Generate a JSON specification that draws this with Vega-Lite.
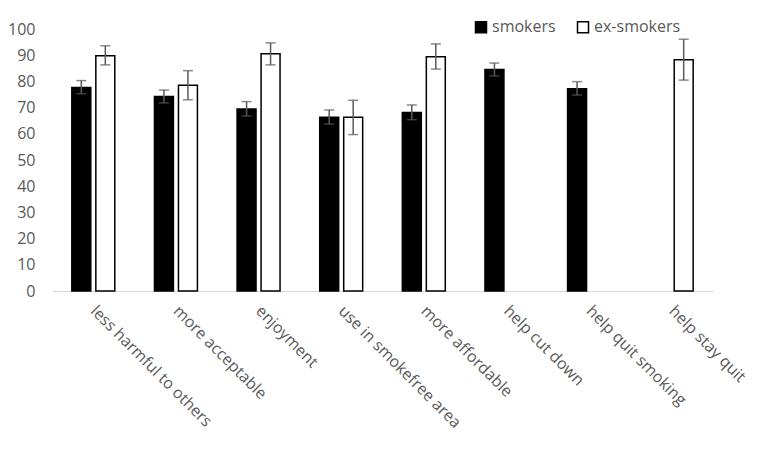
{
  "$schema": "https://vega.github.io/schema/vega-lite/v6.json",
  "width": 661,
  "height": 262,
  "autosize": {"type": "none"},
  "padding": {"left": 52, "top": 29, "right": 44, "bottom": 164},
  "background": "white",
  "config": {
    "view": {"stroke": null},
    "font": "Open Sans",
    "axis": {"labelFont": "Open Sans", "labelColor": "#595959", "labelFontSize": 16, "grid": false, "ticks": false, "title": null, "labelOverlap": false},
    "axisY": {"labelOverlap": false, "tickCount": 11, "domain": false, "labelPadding": 17},
    "legend": {"labelFont": "Open Sans", "labelColor": "#595959", "labelFontSize": 16}
  },
  "data": {
    "values": [
      {"category": "less harmful to others", "group": "smokers", "value": 77.7, "lo": 75.3, "hi": 80.3},
      {"category": "less harmful to others", "group": "ex-smokers", "value": 89.8, "lo": 86.3, "hi": 93.6},
      {"category": "more acceptable", "group": "smokers", "value": 74.2, "lo": 71.8, "hi": 76.7},
      {"category": "more acceptable", "group": "ex-smokers", "value": 78.5, "lo": 73.0, "hi": 84.1},
      {"category": "enjoyment", "group": "smokers", "value": 69.5, "lo": 66.8, "hi": 72.3},
      {"category": "enjoyment", "group": "ex-smokers", "value": 90.6, "lo": 86.3, "hi": 94.7},
      {"category": "use in smokefree area", "group": "smokers", "value": 66.3, "lo": 63.7, "hi": 69.1},
      {"category": "use in smokefree area", "group": "ex-smokers", "value": 66.3, "lo": 59.7, "hi": 72.8},
      {"category": "more affordable", "group": "smokers", "value": 68.1, "lo": 65.4, "hi": 71.0},
      {"category": "more affordable", "group": "ex-smokers", "value": 89.4, "lo": 84.7, "hi": 94.3},
      {"category": "help cut down", "group": "smokers", "value": 84.5, "lo": 82.1, "hi": 87.0},
      {"category": "help quit smoking", "group": "smokers", "value": 77.2, "lo": 74.8, "hi": 79.9},
      {"category": "help stay quit", "group": "ex-smokers", "value": 88.3, "lo": 80.5, "hi": 96.1}
    ]
  },
  "encoding": {
    "x": {
      "field": "category", "type": "nominal", "sort": null,
      "scale": {"domain": ["less harmful to others", "more acceptable", "enjoyment", "use in smokefree area", "more affordable", "help cut down", "help quit smoking", "help stay quit"], "paddingInner": 0.48, "paddingOuter": 0.24},
      "axis": {"labelAngle": 45, "labelAlign": "left", "labelBaseline": "middle", "labelPadding": 17, "domainColor": "#d9d9d9", "domainWidth": 1, "labelLimit": 300}
    },
    "xOffset": {
      "field": "group", "type": "nominal",
      "scale": {"domain": ["smokers", "ex-smokers"], "paddingInner": 0.21, "paddingOuter": 0}
    }
  },
  "layer": [
    {
      "mark": {"type": "bar", "stroke": "black", "strokeWidth": 1.5},
      "encoding": {
        "y": {
          "field": "value", "type": "quantitative",
          "scale": {"domain": [0, 100], "nice": false},
          "axis": {"values": [0, 10, 20, 30, 40, 50, 60, 70, 80, 90, 100], "labelOverlap": false, "domain": false, "labelPadding": 17}
        },
        "fill": {
          "field": "group", "type": "nominal",
          "scale": {"domain": ["smokers", "ex-smokers"], "range": ["#000000", "#ffffff"]},
          "legend": {"title": null, "orient": "none", "direction": "horizontal", "legendX": 421, "legendY": -10, "symbolType": "square", "symbolSize": 121, "symbolStrokeColor": "black", "symbolStrokeWidth": 1.5, "columnPadding": 18, "labelOffset": 3}
        }
      }
    },
    {
      "mark": {"type": "rule", "color": "#595959", "strokeWidth": 1.5},
      "encoding": {
        "y": {"field": "lo", "type": "quantitative", "axis": {"values": [0, 10, 20, 30, 40, 50, 60, 70, 80, 90, 100], "labelOverlap": false}},
        "y2": {"field": "hi"}
      }
    },
    {
      "mark": {"type": "tick", "color": "#595959", "thickness": 1.5, "size": 10},
      "encoding": {"y": {"field": "lo", "type": "quantitative", "axis": {"values": [0, 10, 20, 30, 40, 50, 60, 70, 80, 90, 100], "labelOverlap": false}}}
    },
    {
      "mark": {"type": "tick", "color": "#595959", "thickness": 1.5, "size": 10},
      "encoding": {"y": {"field": "hi", "type": "quantitative", "axis": {"values": [0, 10, 20, 30, 40, 50, 60, 70, 80, 90, 100], "labelOverlap": false}}}
    }
  ]
}
